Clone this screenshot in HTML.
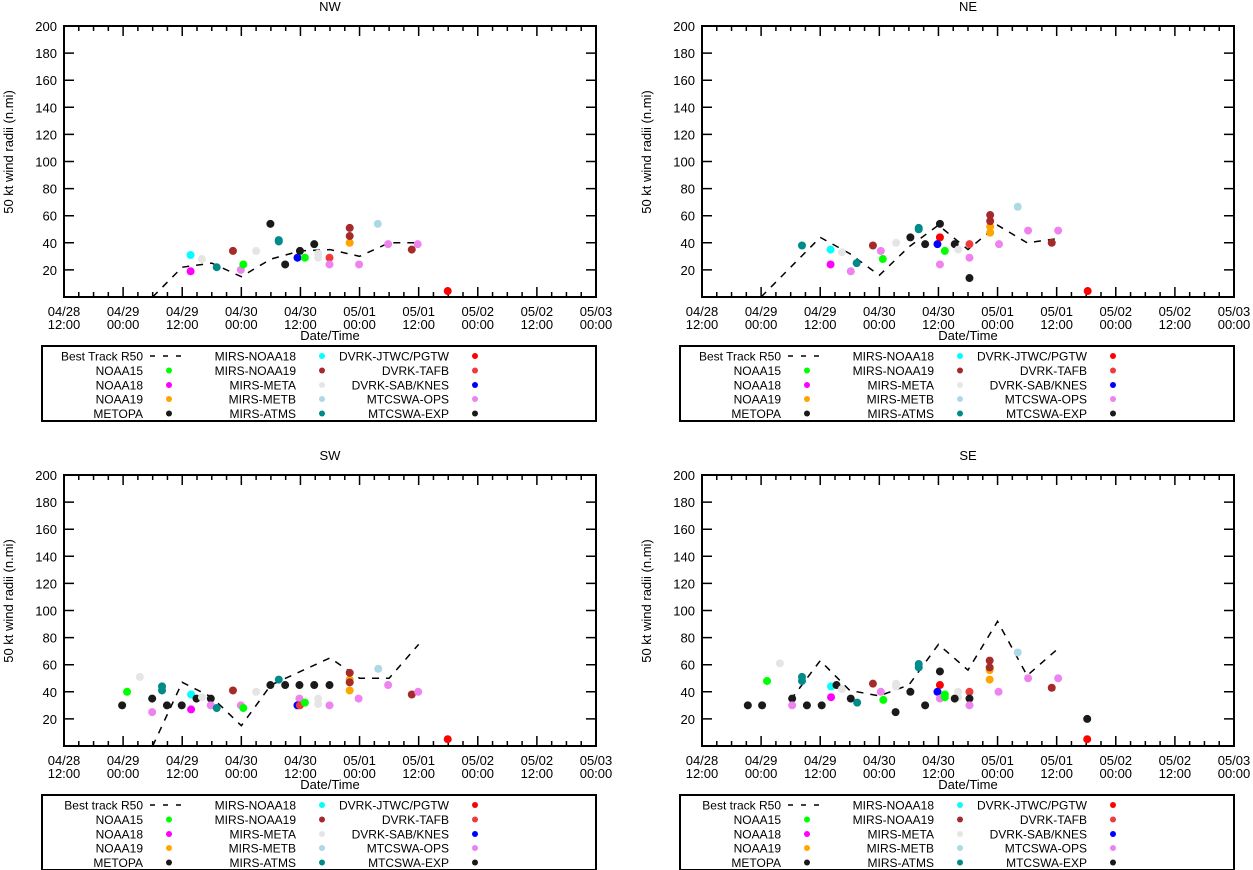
<!DOCTYPE html>
<html><head><meta charset="utf-8"><style>
html,body{margin:0;padding:0;background:#fff;}
svg{display:block;font-family:"Liberation Sans",Arial,sans-serif;}
</style></head><body>
<svg id="chart" xmlns="http://www.w3.org/2000/svg" width="1253" height="870" viewBox="0 0 1253 870"></svg>
<script>
// series: 0 NOAA15,1 NOAA18,2 NOAA19,3 METOPA,4 MIRS-NOAA18,5 MIRS-NOAA19,6 MIRS-META,7 MIRS-METB,8 MIRS-ATMS,9 DVRK-JTWC,10 DVRK-TAFB,11 DVRK-SAB,12 MTCSWA-OPS,13 MTCSWA-EXP
const seriesNames=["NOAA15","NOAA18","NOAA19","METOPA","MIRS-NOAA18","MIRS-NOAA19","MIRS-META","MIRS-METB","MIRS-ATMS","DVRK-JTWC/PGTW","DVRK-TAFB","DVRK-SAB/KNES","MTCSWA-OPS","MTCSWA-EXP"];
const seriesColors=["#00ff00","#ff00ff","#ffa500","#1a1a1a","#00ffff","#a52a2a","#e5e5e5","#add8e6","#008b8b","#ff0000","#ee3b3b","#0000ff","#ee82ee","#1a1a1a"];
const xTickDates=["04/28","04/29","04/29","04/30","04/30","05/01","05/01","05/02","05/02","05/03"];
const xTickTimes=["12:00","00:00","12:00","00:00","12:00","00:00","12:00","00:00","12:00","00:00"];
const yTicks=[20,40,60,80,100,120,140,160,180,200];

const nwTrackHours=[18,24,30,36,42,48,54,60,66,72];
const nwTrackValues=[0,22,25,15,28,34,35,30,40,40];
const nwPointHours=[25.7,25.7,28,31,34.3,35.9,36.4,39,41.9,43.6,43.6,44.9,47.4,47.9,48.9,50.8,51.6,51.6,53.9,53.9,58,58,58,59.9,63.7,65.8,70.6,71.8,77.9];
const nwPointValues=[19,31,28,22,34,20,24,34,54,41,42,24,29,34,29,39,32,29,29,24,40,51,45,24,54,39,35,39,4.4];
const nwPointSeries=[1,4,6,8,5,12,0,6,3,8,8,13,11,3,0,13,6,6,10,12,2,5,5,12,7,12,5,12,9];

const neTrackHours=[12,18,24,30,36,42,48,54,60,66,72];
const neTrackValues=[0,22,44,32,16,37,53,35,53,40,43];
const nePointHours=[20.3,26.1,26.1,28.4,30.2,31.4,34.7,36.3,36.7,39.4,42.3,44,44,45.3,48.3,48.3,47.8,48.3,49.3,51.3,52,54.3,54.3,54.3,58.5,58.5,58.5,58.5,60.3,64.1,66.2,71,72.3,78.3];
const nePointValues=[38,35,24,33,19,25,38,34,28,40,44,50,51,39,54,44,39,24,34,39,35,39,29,14,52,47.5,60.5,56,39,66.6,49,40,49,4.4];
const nePointSeries=[8,4,1,6,12,8,5,12,0,6,3,8,8,13,3,9,11,12,0,13,6,10,12,3,2,2,5,5,12,7,12,5,12,9];

const swTrackHours=[18,24,30,36,42,48,54,60,66,72];
const swTrackValues=[0,47,36,15,45,55,65,50,50,75];
const swPointHours=[11.8,12.8,15.4,17.9,17.9,19.9,19.9,20.9,23.9,25.8,25.8,26.9,28,29.8,29.8,31,34.3,35.9,36.4,39,41.9,43.6,44.9,47.8,47.8,47.4,47.9,48.9,51.6,51.6,50.8,53.9,53.9,58,58,58,58,59.8,63.8,65.8,70.6,71.9,77.9];
const swPointValues=[30,40,51,35,25,44,41,30,30,38,27,35,36,35,30,28,41,30,28,40,45,49,45,45,35,30,30,32,35,31,45,45,30,49,41,54,47,35,57,45,38,40,5];
const swPointSeries=[3,0,6,3,12,8,8,3,13,4,1,3,6,13,12,8,5,12,0,6,3,8,13,3,12,11,10,0,6,6,13,3,12,2,2,5,5,12,7,12,5,12,9];

const seTrackHours=[18,24,30,36,42,48,54,60,66,72];
const seTrackValues=[34,63,41,37,45,75,56,92,52,71];
const sePointHours=[9.3,12.2,13.2,15.8,18.3,18.3,20.3,20.3,21.3,24.3,26.2,26.2,27.3,28.4,30.2,31.5,34.7,36.3,36.8,39.3,39.4,39.4,42.3,45.3,44,44,48.3,48.3,47.8,48.3,49.3,49.3,52,52,51.3,54.3,54.3,54.3,58.4,58.4,58.4,58.4,60.2,64.1,66.2,71,72.3,78.2,78.2];
const sePointValues=[30,30,48,61,35,30,51,48,30,30,44,36,45,42,35,32,46,40,34,25,46,44,40,30,60.5,58,55,45,40,35,38,36,40,36,35,40,35,30,56,49,63,58,40,69,50,43,50,20,5];
const sePointSeries=[3,13,0,6,3,12,8,8,3,13,4,1,3,6,13,8,5,12,0,3,6,6,13,3,8,8,3,9,11,12,0,0,6,6,13,10,3,12,2,2,5,5,12,7,12,5,12,3,9];

const NS="http://www.w3.org/2000/svg";
const svg=document.getElementById('chart');
function mk(tag,attrs,parent,text){const e=document.createElementNS(NS,tag);for(const k in attrs)e.setAttribute(k,attrs[k]);if(text!==undefined)e.textContent=text;parent.appendChild(e);return e;}

function drawPanel(ox,oy,title,bestLabel,tH,tV,pH,pV,pS,key){
  const g=mk('g',{},svg);
  
  
  const X0=ox+64,X1=ox+596,Y0=oy+297,Y1=oy+26;
  const xs=h=>X0+h*(X1-X0)/108;
  const ys=v=>Y0-v*(Y0-Y1)/200;
  const t=mk('text',{x:ox+330,y:oy+11,'font-size':13,'text-anchor':'middle'},g,title);
  
  
  const yl=mk('text',{x:ox+13,y:oy+152,'font-size':13,'text-anchor':'middle',transform:'rotate(-90 '+(ox+13)+' '+(oy+152)+')'},g,'50 kt wind radii (n.mi)');
  
  
  const xl=mk('text',{x:ox+330,y:oy+340,'font-size':13,'text-anchor':'middle'},g,'Date/Time');
  
  
  let d='';
  for(let h=0;h<=108;h+=3){const L=(h%12===0)?10:5;const x=xs(h);d+=`M${x} ${Y0}v${-L}M${x} ${Y1}v${L}`;}
  yTicks.forEach(v=>{if(v<200){const y=ys(v);d+=`M${X0} ${y}h10M${X1} ${y}h-10`;}});
  const tk=mk('path',{d:d,stroke:'#000','stroke-width':1.5,fill:'none'},g);
  
  
  yTicks.forEach(v=>{const e=mk('text',{x:X0-7,y:ys(v)+5,'font-size':13,'text-anchor':'end'},g,String(v));
    
    });
  xTickDates.forEach((dt,i)=>{const x=xs(i*12);
    const e=mk('text',{x:x,y:oy+316,'font-size':13,'text-anchor':'middle'},g);
    
    
    mk('tspan',{x:x},e,dt);mk('tspan',{x:x,dy:13},e,xTickTimes[i]);});
  const box=mk('rect',{x:X0,y:Y1,width:X1-X0,height:Y0-Y1,fill:'none',stroke:'#000','stroke-width':2},g);
  
  
  const pts=tH.map((h,i)=>xs(h)+','+ys(tV[i])).join(' ');
  const ln=mk('polyline',{points:pts,fill:'none',stroke:'#000','stroke-width':1.5,'stroke-dasharray':'7,7'},g);
  
  
  pH.forEach((h,i)=>{const c=mk('circle',{cx:xs(h),cy:ys(pV[i]),r:4,fill:seriesColors[pS[i]]},g);
    
    });
  const lg=mk('g',{},g);
  
  
  mk('rect',{x:ox+42,y:oy+346,width:554,height:75,fill:'none',stroke:'#000','stroke-width':2},lg);
  const names=[bestLabel].concat(seriesNames);
  const colTx=[143,296,449],colMk=[169,322,475],rowY=[356,370.5,385,399,413.5];
  names.forEach((n,i)=>{const col=Math.floor(i/5),row=i%5;const y=oy+rowY[row];
    const e=mk('text',{x:ox+colTx[col],y:y+4.5,'font-size':12,'text-anchor':'end'},lg,n);
    
    
    if(i===0){const l=mk('path',{d:`M${ox+150} ${y}h31`,stroke:'#000','stroke-width':1.5,'stroke-dasharray':'5,8'},lg);
      
      }
    else{const c=mk('circle',{cx:ox+colMk[col],cy:y,r:3,fill:seriesColors[i-1]},lg);
      
      }
  });
}
drawPanel(0,0,'NW','Best Track R50',nwTrackHours,nwTrackValues,nwPointHours,nwPointValues,nwPointSeries,'nw');
drawPanel(638,0,'NE','Best Track R50',neTrackHours,neTrackValues,nePointHours,nePointValues,nePointSeries,'ne');
drawPanel(0,449,'SW','Best track R50',swTrackHours,swTrackValues,swPointHours,swPointValues,swPointSeries,'sw');
drawPanel(638,449,'SE','Best track R50',seTrackHours,seTrackValues,sePointHours,sePointValues,sePointSeries,'se');
</script>
</body></html>
